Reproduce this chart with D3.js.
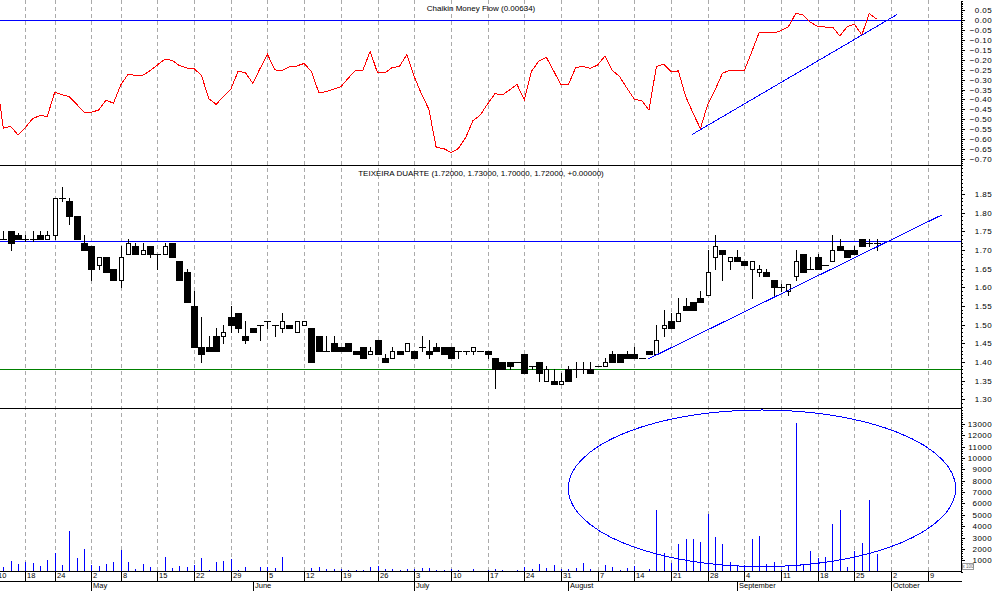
<!DOCTYPE html>
<html><head><meta charset="utf-8">
<script src="https://cdn.jsdelivr.net/npm/d3@7"></script>
<style>html,body{margin:0;padding:0;background:#fff;overflow:hidden}svg{display:block}</style>
</head><body><svg id="c" width="994" height="591"></svg>
<script>
// ---------- DATA ----------
const startDate = "2006-04-10", endDate = "2006-10-13";
const holidays = ["2006-04-14", "2006-04-17", "2006-05-01"];
const stockName = "TEIXEIRA DUARTE";
const cmfTitle = "Chaikin Money Flow (0.00634)";

const opens = [1.73,
 1.73,1.75,1.74,1.73,1.73,1.74,1.73,1.74,1.84,1.83,
 1.79,1.72,1.71,1.66,1.68,1.65,1.62,1.69,1.71,1.69,
 1.71,1.69,1.69,1.72,1.67,1.64,1.55,1.44,1.44,1.47,
 1.47,1.52,1.53,1.47,1.49,1.50,1.51,1.50,1.49,1.50,
 1.48,1.50,1.49,1.47,1.43,1.45,1.44,1.45,1.43,1.44,
 1.42,1.46,1.41,1.41,1.43,1.43,1.43,1.44,1.43,1.44,
 1.44,1.44,1.43,1.43,1.43,1.43,1.43,1.41,1.40,1.40,
 1.40,1.42,1.39,1.40,1.35,1.35,1.34,1.38,1.38,1.38,
 1.38,1.39,1.39,1.42,1.42,1.42,1.42,1.41,1.43,1.42,
 1.49,1.51,1.51,1.55,1.56,1.57,1.58,1.68,1.70,1.67,
 1.68,1.67,1.65,1.64,1.64,1.62,1.60,1.59,1.63,1.69,
 1.65,1.68,1.66,1.67,1.71,1.70,1.70,1.73,1.72,1.72];
const highs = [1.74,
 1.75,1.75,1.745,1.74,1.75,1.75,1.75,1.84,1.87,1.84,
 1.79,1.74,1.71,1.68,1.68,1.65,1.71,1.73,1.72,1.72,
 1.71,1.69,1.72,1.72,1.67,1.65,1.59,1.52,1.47,1.49,
 1.50,1.55,1.53,1.51,1.49,1.50,1.51,1.50,1.53,1.50,
 1.51,1.51,1.49,1.47,1.47,1.47,1.44,1.45,1.43,1.44,
 1.44,1.46,1.42,1.44,1.43,1.45,1.43,1.47,1.46,1.45,
 1.44,1.44,1.43,1.43,1.44,1.43,1.43,1.41,1.40,1.40,
 1.40,1.42,1.39,1.40,1.39,1.38,1.37,1.39,1.40,1.40,
 1.40,1.39,1.41,1.43,1.42,1.43,1.44,1.41,1.43,1.50,
 1.54,1.53,1.57,1.57,1.56,1.59,1.70,1.74,1.70,1.68,
 1.70,1.67,1.67,1.66,1.65,1.62,1.61,1.61,1.70,1.69,
 1.68,1.69,1.66,1.74,1.73,1.70,1.71,1.73,1.73,1.73];
const lows = [1.72,
 1.73,1.70,1.73,1.725,1.725,1.73,1.73,1.73,1.83,1.77,
 1.73,1.70,1.62,1.65,1.64,1.62,1.60,1.69,1.69,1.69,
 1.68,1.65,1.69,1.68,1.62,1.56,1.44,1.40,1.43,1.43,
 1.45,1.48,1.48,1.45,1.48,1.46,1.49,1.47,1.48,1.49,
 1.48,1.50,1.40,1.43,1.43,1.43,1.43,1.43,1.42,1.41,
 1.42,1.42,1.40,1.41,1.42,1.43,1.41,1.43,1.41,1.43,
 1.42,1.41,1.41,1.42,1.42,1.43,1.41,1.33,1.38,1.38,
 1.40,1.37,1.38,1.35,1.35,1.34,1.34,1.35,1.36,1.37,
 1.37,1.39,1.39,1.40,1.40,1.41,1.41,1.41,1.42,1.42,
 1.47,1.49,1.51,1.54,1.54,1.56,1.58,1.65,1.62,1.65,
 1.67,1.66,1.57,1.63,1.63,1.58,1.59,1.58,1.62,1.64,
 1.65,1.65,1.66,1.67,1.70,1.68,1.69,1.71,1.71,1.70];
const closes = [1.73,
 1.73,1.72,1.73,1.73,1.73,1.73,1.74,1.84,1.84,1.79,
 1.73,1.70,1.65,1.68,1.64,1.62,1.68,1.72,1.69,1.70,
 1.69,1.69,1.71,1.68,1.62,1.56,1.44,1.42,1.43,1.43,
 1.48,1.50,1.49,1.46,1.48,1.50,1.51,1.50,1.51,1.49,
 1.51,1.51,1.40,1.43,1.43,1.43,1.43,1.43,1.42,1.41,
 1.43,1.42,1.40,1.43,1.42,1.45,1.41,1.44,1.42,1.43,
 1.42,1.41,1.43,1.43,1.44,1.43,1.42,1.38,1.38,1.39,
 1.40,1.37,1.39,1.37,1.38,1.34,1.35,1.35,1.38,1.38,
 1.37,1.39,1.40,1.40,1.40,1.41,1.41,1.41,1.42,1.46,
 1.50,1.49,1.53,1.54,1.54,1.56,1.64,1.71,1.69,1.68,
 1.67,1.66,1.67,1.65,1.63,1.60,1.60,1.61,1.67,1.64,
 1.65,1.65,1.66,1.70,1.70,1.68,1.69,1.71,1.72,1.72];
const volumes = [500,
 410,910,675,820,735,500,1000,1615,590,3550,
 1175,1965,560,500,645,820,1880,820,205,645,
 380,90,1260,295,470,380,560,1175,120,820,
 910,1085,120,380,40,380,380,295,1260,30,
 30,30,295,380,205,205,205,120,120,120,
 380,500,205,205,120,205,205,295,295,120,
 120,205,120,30,205,30,120,205,120,30,
 120,410,205,645,295,560,205,205,295,735,
 205,30,560,380,120,295,470,30,205,5400,
 1670,735,2405,2845,2845,2580,5045,3020,2405,820,
 560,560,2845,3110,645,820,120,560,13055,645,
 1790,1175,1260,4165,5400,380,1790,2495,6280,1525];
const cmf = [-0.275,
 -0.546,-0.536,-0.580,-0.543,-0.497,-0.482,-0.486,-0.364,-0.376,-0.386,
 -0.425,-0.465,-0.465,-0.454,-0.403,-0.420,-0.327,-0.273,-0.278,-0.278,
 -0.255,-0.226,-0.197,-0.202,-0.229,-0.241,-0.245,-0.278,-0.396,-0.425,
 -0.386,-0.349,-0.258,-0.265,-0.319,-0.243,-0.172,-0.251,-0.253,-0.236,
 -0.231,-0.218,-0.260,-0.366,-0.361,-0.349,-0.336,-0.293,-0.253,-0.253,
 -0.157,-0.266,-0.266,-0.239,-0.233,-0.172,-0.285,-0.374,-0.450,-0.644,
 -0.648,-0.669,-0.649,-0.594,-0.508,-0.479,-0.423,-0.371,-0.378,-0.352,
 -0.324,-0.403,-0.256,-0.206,-0.187,-0.256,-0.327,-0.327,-0.239,-0.233,
 -0.243,-0.226,-0.180,-0.253,-0.285,-0.344,-0.400,-0.406,-0.454,-0.234,
 -0.221,-0.260,-0.256,-0.386,-0.470,-0.548,-0.425,-0.352,-0.268,-0.253,
 -0.256,-0.253,-0.159,-0.062,-0.064,-0.064,-0.052,-0.032,0.035,0.027,
 -0.010,-0.032,-0.034,-0.034,-0.079,-0.032,-0.020,-0.074,0.035,0.006];

const cmfTicks = [0.05,0.00,-0.05,-0.10,-0.15,-0.20,-0.25,-0.30,-0.35,-0.40,-0.45,-0.50,-0.55,-0.60,-0.65,-0.70];
const priceTicks = [1.30,1.35,1.40,1.45,1.50,1.55,1.60,1.65,1.70,1.75,1.80,1.85];
const volumeTicks = [1000,2000,3000,4000,5000,6000,7000,8000,9000,10000,11000,12000,13000];
const volumeUnit = "x 100";

// annotations (day index, value)
const priceLevels = [1.7235, 1.3812];
const cmfTrend = [[94.9, -0.577], [122.83, 0.030]];
const priceTrend = [[88.82, 1.4072], [128.88, 1.7937]];
const volumeEllipse = {cx: 104.39, cy: 7333, rx: 26.4, ry: 6893};

// ---------- CHART ----------
const FONT = '"Liberation Sans", Arial, Helvetica, sans-serif';
const svg = d3.select("#c");
const parse = d3.utcParse("%Y-%m-%d"), fmt = d3.utcFormat("%Y-%m-%d");
const days = d3.utcDays(parse(startDate), d3.utcDay.offset(parse(endDate), 1))
  .filter(d => d.getUTCDay() !== 0 && d.getUTCDay() !== 6 && !holidays.includes(fmt(d)));

const x = d3.scaleLinear().domain([0.55, 131.65]).range([0, 962]);
const yC = d3.scaleLinear().domain([-0.7339, 0.1027]).range([165.4, 0]);
const yP = d3.scaleLinear().domain([1.2758, 1.9266]).range([408.3, 165.4]);
const yV = d3.scaleLinear().domain([0, 14375]).range([571.6, 408.3]);
const px = k => Math.round(x(k));
const hy = v => Math.round(v) + 0.5;

const weekStarts = d3.range(days.length).filter(k => k === 0 ||
  d3.utcMonday.floor(days[k]).getTime() !== d3.utcMonday.floor(days[k - 1]).getTime());
const monthStarts = d3.range(1, days.length).filter(k => days[k].getUTCMonth() !== days[k - 1].getUTCMonth());

svg.append("defs").append("clipPath").attr("id", "plotclip")
  .append("rect").attr("x", 0).attr("y", 0).attr("width", 961).attr("height", 571);
const plot = svg.append("g").attr("clip-path", "url(#plotclip)");

// dashed weekly grid
plot.append("g").selectAll("line").data(weekStarts).join("line")
  .attr("x1", k => px(k) + 0.5).attr("x2", k => px(k) + 0.5)
  .attr("y1", 0).attr("y2", 571)
  .attr("stroke", "#aaaaaa").attr("stroke-dasharray", "4,3").attr("shape-rendering", "crispEdges");

// price levels
const levelColors = ["#0000ff", "#008000"];
plot.append("g").selectAll("line").data(priceLevels).join("line")
  .attr("x1", 0).attr("x2", 962)
  .attr("y1", v => hy(yP(v))).attr("y2", v => hy(yP(v)))
  .attr("stroke", (v, i) => levelColors[i]).attr("shape-rendering", "crispEdges");

// CMF zero line
plot.append("line").attr("x1", 0).attr("x2", 962)
  .attr("y1", hy(yC(0))).attr("y2", hy(yC(0)))
  .attr("stroke", "#0000ff").attr("shape-rendering", "crispEdges");

// candles
const candles = d3.range(opens.length).map(k => ({k, o: opens[k], h: highs[k], l: lows[k], c: closes[k]}));
const cg = plot.append("g").attr("shape-rendering", "crispEdges");
cg.selectAll("line").data(candles).join("line")
  .attr("x1", d => px(d.k) + 0.5).attr("x2", d => px(d.k) + 0.5)
  .attr("y1", d => Math.round(yP(d.h))).attr("y2", d => Math.round(yP(d.l)) + 1)
  .attr("stroke", "#000");
cg.selectAll("rect").data(candles).join("rect")
  .each(function (d) {
    const s = d3.select(this);
    const top = Math.round(yP(Math.max(d.o, d.c))), bot = Math.round(yP(Math.min(d.o, d.c)));
    if (Math.abs(d.o - d.c) < 0.0005) {
      s.attr("x", px(d.k) - 3).attr("y", top).attr("width", 7).attr("height", 1).attr("fill", "#000");
    } else if (d.c < d.o) {
      s.attr("x", px(d.k) - 3).attr("y", top).attr("width", 7).attr("height", Math.max(1, bot - top + 1)).attr("fill", "#000");
    } else {
      s.attr("x", px(d.k) - 1.5).attr("y", top + 0.5).attr("width", 4).attr("height", Math.max(1, bot - top))
        .attr("fill", "#fff").attr("stroke", "#000");
    }
  });

// price trend line
const line = d3.line().x(d => x(d[0])).y(d => d[1]);
plot.append("path").attr("d", line(priceTrend.map(d => [d[0], yP(d[1])])))
  .attr("fill", "none").attr("stroke", "#0000ff").attr("shape-rendering", "crispEdges");

// CMF line
plot.append("path")
  .attr("d", d3.line().x((v, k) => x(k)).y(v => yC(v))(cmf))
  .attr("fill", "none").attr("stroke", "#ff0000").attr("stroke-width", 1).attr("shape-rendering", "crispEdges");
plot.append("path").attr("d", line(cmfTrend.map(d => [d[0], yC(d[1])])))
  .attr("fill", "none").attr("stroke", "#0000ff").attr("shape-rendering", "crispEdges");

// volume bars
plot.append("g").attr("shape-rendering", "crispEdges").selectAll("rect").data(volumes).join("rect")
  .attr("x", (v, k) => px(k)).attr("width", 1)
  .attr("y", v => Math.round(yV(v))).attr("height", v => Math.max(0, 571 - Math.round(yV(v))))
  .attr("fill", "#0000ff");

// ellipse annotation
plot.append("ellipse")
  .attr("cx", x(volumeEllipse.cx)).attr("cy", yV(volumeEllipse.cy))
  .attr("rx", x(volumeEllipse.cx + volumeEllipse.rx) - x(volumeEllipse.cx))
  .attr("ry", yV(0) - yV(volumeEllipse.ry))
  .attr("fill", "none").attr("stroke", "#0000ff").attr("shape-rendering", "crispEdges");

// panel separators
svg.append("g").selectAll("line").data([yP.range()[1], yV.range()[1]]).join("line")
  .attr("x1", 0).attr("x2", 962).attr("y1", y => hy(y)).attr("y2", y => hy(y))
  .attr("stroke", "#000").attr("shape-rendering", "crispEdges");

// right axes
function rightAxis(scale, labels, f, step) {
  const [lo, hi] = scale.domain();
  const minor = d3.range(Math.ceil(lo / step), Math.floor(hi / step) + 1).map(i => i * step);
  const g1 = svg.append("g").attr("transform", "translate(961,0)")
    .call(d3.axisRight(scale).tickValues(minor).tickSize(2).tickSizeOuter(0).tickFormat(""));
  const g2 = svg.append("g").attr("transform", "translate(961,0)")
    .call(d3.axisRight(scale).tickValues(labels).tickSize(4).tickSizeOuter(0).tickFormat(f));
  [g1, g2].forEach(g => {
    g.attr("shape-rendering", "crispEdges");
    g.selectAll(".tick").attr("transform", d => `translate(0,${hy(scale(d))})`);
    g.selectAll(".tick line").attr("y1", 0).attr("y2", 0);
  });
  g2.selectAll("text").attr("x", 31).attr("text-anchor", "end").attr("dy", "0.34em")
    .attr("font-family", FONT).attr("font-size", 8).attr("letter-spacing", "0.4px").attr("fill", "#000");
}
rightAxis(yC, cmfTicks, d3.format(".2f"), 0.01);
rightAxis(yP, priceTicks, d3.format(".2f"), 0.01);
rightAxis(yV, volumeTicks, d3.format("d"), 200);

// volume unit box
const ub = svg.append("g").attr("transform", "translate(962,563)");
ub.append("rect").attr("x", 0.5).attr("y", 0.5).attr("width", 11).attr("height", 6)
  .attr("fill", "#fff").attr("stroke", "#999").attr("shape-rendering", "crispEdges");
ub.append("text").attr("x", 6).attr("y", 5).attr("text-anchor", "middle")
  .attr("font-family", FONT).attr("font-size", 4.5).attr("fill", "#666").text(volumeUnit);

// x axes (days and months)
const visWeeks = weekStarts.filter(k => x(k) < 962);
const gx = svg.append("g").attr("transform", "translate(0,571)")
  .call(d3.axisBottom(x).tickValues(visWeeks).tickSize(10).tickSizeOuter(0)
    .tickFormat(k => days[k].getUTCDate()));
const visMonths = monthStarts.filter(k => x(k) < 962);
const gm = svg.append("g").attr("transform", "translate(0,581)")
  .call(d3.axisBottom(x).tickValues(visMonths).tickSize(10).tickSizeOuter(0)
    .tickFormat(k => d3.utcFormat("%B")(days[k])));
[gx, gm].forEach(g => {
  g.attr("shape-rendering", "crispEdges");
  g.select(".domain").attr("d", "M0,0.5H962");
  g.selectAll(".tick").attr("transform", k => `translate(${px(k) + 0.5},0)`);
  g.selectAll("text").attr("text-anchor", "start").attr("x", 1.5).attr("y", 2).attr("dy", "0.72em")
    .attr("font-family", FONT).attr("font-size", 7.5).attr("fill", "#000");
});

// titles
const last = opens.length - 1;
const f5 = d3.format(".5f");
const priceTitle = `${stockName} (${f5(opens[last])}, ${f5(highs[last])}, ${f5(lows[last])}, ${f5(closes[last])}, ${d3.format("+.5f")(closes[last] - closes[last - 1])})`;
svg.append("text").attr("x", 481).attr("y", 10.5).attr("text-anchor", "middle")
  .attr("font-family", FONT).attr("font-size", 8).attr("fill", "#000").text(cmfTitle);
svg.append("text").attr("x", 481).attr("y", 176.3).attr("text-anchor", "middle")
  .attr("font-family", FONT).attr("font-size", 8).attr("fill", "#000").text(priceTitle);
</script>
</body></html>
